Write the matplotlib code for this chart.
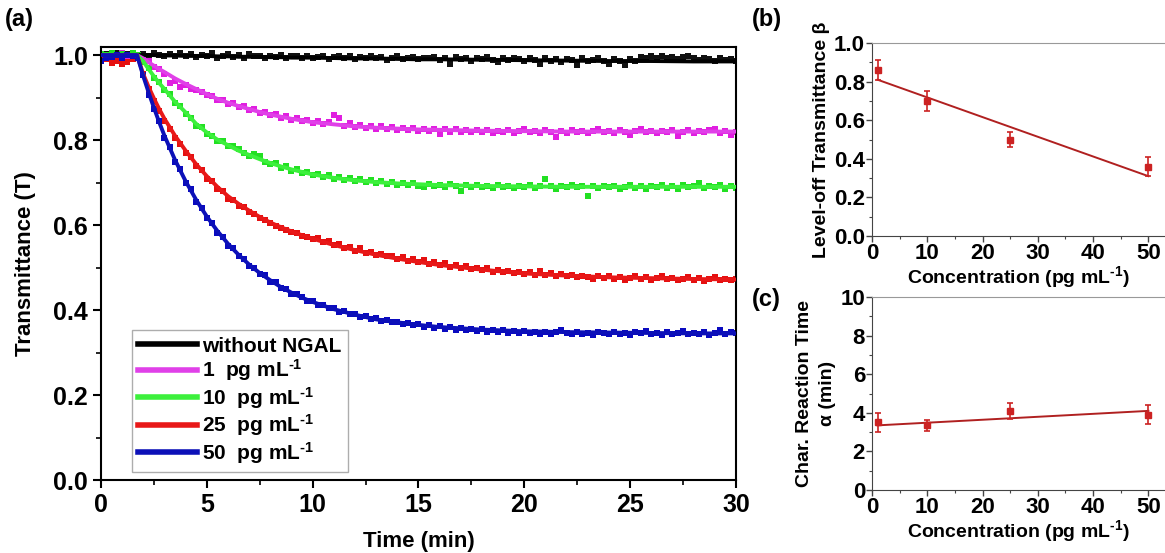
import matplotlib
matplotlib.use("Agg")
import matplotlib.pyplot as plt
from matplotlib.ticker import MultipleLocator

plt.rcParams['font.family'] = ['Liberation Sans', 'DejaVu Sans']
plt.rcParams['font.weight'] = 'bold'
plt.rcParams['mathtext.fontset'] = 'custom'
plt.rcParams['mathtext.rm'] = 'Liberation Sans:bold'
plt.rcParams['mathtext.bf'] = 'Liberation Sans:bold'
plt.rcParams['mathtext.default'] = 'bf'

# ---- panel (a): measured transmittance, sampled every 0.25 min ----
time = [0, 0.25, 0.5, 0.75, 1, 1.25, 1.5, 1.75, 2, 2.25, 2.5, 2.75, 3, 3.25, 3.5, 3.75,
        4, 4.25, 4.5, 4.75, 5, 5.25, 5.5, 5.75, 6, 6.25, 6.5, 6.75, 7, 7.25, 7.5, 7.75,
        8, 8.25, 8.5, 8.75, 9, 9.25, 9.5, 9.75, 10, 10.25, 10.5, 10.75, 11, 11.25, 11.5, 11.75,
        12, 12.25, 12.5, 12.75, 13, 13.25, 13.5, 13.75, 14, 14.25, 14.5, 14.75, 15, 15.25, 15.5, 15.75,
        16, 16.25, 16.5, 16.75, 17, 17.25, 17.5, 17.75, 18, 18.25, 18.5, 18.75, 19, 19.25, 19.5, 19.75,
        20, 20.25, 20.5, 20.75, 21, 21.25, 21.5, 21.75, 22, 22.25, 22.5, 22.75, 23, 23.25, 23.5, 23.75,
        24, 24.25, 24.5, 24.75, 25, 25.25, 25.5, 25.75, 26, 26.25, 26.5, 26.75, 27, 27.25, 27.5, 27.75,
        28, 28.25, 28.5, 28.75, 29, 29.25, 29.5, 29.75, 30]

t_black = [0.998, 1.003, 1.001, 1.004, 0.999, 1.002, 1.005, 1.001,
           1.003, 0.998, 1.004, 1.000, 0.997, 1.003, 0.999, 1.004,
           0.998, 1.002, 0.995, 1.001, 0.997, 1.004, 0.993, 0.999,
           1.002, 0.996, 1.000, 0.994, 1.003, 0.997, 0.999, 0.992,
           0.998, 0.995, 1.001, 0.993, 0.997, 0.999, 0.994, 0.998,
           0.992, 0.996, 0.999, 0.990, 0.995, 0.997, 0.993, 0.998,
           0.991, 0.996, 0.994, 0.998, 0.992, 0.995, 0.989, 0.994,
           0.997, 0.991, 0.993, 0.995, 0.990, 0.994, 0.992, 0.996,
           0.988, 0.993, 0.980, 0.995, 0.990, 0.992, 0.987, 0.994,
           0.991, 0.995, 0.989, 0.983, 0.992, 0.988, 0.994, 0.990,
           0.986, 0.992, 0.989, 0.978, 0.993, 0.987, 0.990, 0.984,
           0.991, 0.988, 0.976, 0.992, 0.986, 0.989, 0.993, 0.985,
           0.979, 0.990, 0.987, 0.977, 0.991, 0.986, 0.996, 0.993,
           0.998, 0.994, 0.997, 0.992, 0.996, 0.990, 0.995, 0.997,
           0.992, 0.988, 0.994, 0.990, 0.986, 0.993, 0.989, 0.991, 0.987]

t_1pg = [1.002, 0.999, 1.003, 1.000, 1.004, 0.999, 1.002, 1.000,
         0.990, 0.985, 0.972, 0.968, 0.955, 0.935, 0.940, 0.925,
         0.930, 0.921, 0.918, 0.912, 0.905, 0.903, 0.895, 0.894,
         0.886, 0.887, 0.878, 0.880, 0.871, 0.873, 0.864, 0.867,
         0.858, 0.861, 0.853, 0.856, 0.848, 0.852, 0.844, 0.848,
         0.840, 0.845, 0.838, 0.842, 0.858, 0.852, 0.833, 0.839,
         0.831, 0.836, 0.829, 0.834, 0.827, 0.832, 0.826, 0.831,
         0.824, 0.829, 0.823, 0.828, 0.822, 0.827, 0.821, 0.826,
         0.815, 0.825, 0.820, 0.826, 0.819, 0.824, 0.818, 0.823,
         0.819, 0.824, 0.817, 0.822, 0.818, 0.823, 0.816, 0.821,
         0.825, 0.818, 0.822, 0.817, 0.823, 0.819, 0.808, 0.821,
         0.817, 0.823, 0.818, 0.822, 0.816, 0.821, 0.826, 0.818,
         0.822, 0.817, 0.823, 0.819, 0.812, 0.821, 0.825, 0.818,
         0.822, 0.816, 0.821, 0.818, 0.823, 0.810, 0.820, 0.824,
         0.817, 0.822, 0.818, 0.823, 0.826, 0.817, 0.822, 0.813, 0.818]

t_10pg = [1.003, 1.000, 1.004, 0.999, 1.003, 1.001, 1.004, 1.000,
          0.983, 0.970, 0.947, 0.937, 0.917, 0.908, 0.887, 0.880,
          0.862, 0.853, 0.834, 0.830, 0.814, 0.810, 0.798, 0.797,
          0.785, 0.786, 0.780, 0.770, 0.762, 0.768, 0.762, 0.748,
          0.744, 0.745, 0.735, 0.738, 0.728, 0.732, 0.722, 0.726,
          0.717, 0.721, 0.714, 0.718, 0.709, 0.714, 0.706, 0.711,
          0.703, 0.708, 0.701, 0.706, 0.699, 0.704, 0.697, 0.702,
          0.695, 0.700, 0.694, 0.699, 0.693, 0.689, 0.697, 0.692,
          0.695, 0.690, 0.696, 0.691, 0.680, 0.694, 0.689, 0.695,
          0.690, 0.693, 0.688, 0.694, 0.689, 0.692, 0.687, 0.693,
          0.690, 0.695, 0.688, 0.692, 0.708, 0.691, 0.686, 0.693,
          0.689, 0.694, 0.690, 0.692, 0.668, 0.691, 0.687, 0.693,
          0.689, 0.692, 0.686, 0.690, 0.694, 0.688, 0.691, 0.686,
          0.693, 0.689, 0.695, 0.688, 0.691, 0.686, 0.694, 0.689,
          0.692, 0.698, 0.688, 0.693, 0.689, 0.695, 0.686, 0.691, 0.688]

t_25pg = [0.998, 0.990, 0.982, 0.986, 0.978, 0.984, 0.990, 0.995,
          0.955, 0.921, 0.893, 0.869, 0.846, 0.826, 0.804, 0.791,
          0.770, 0.760, 0.738, 0.730, 0.709, 0.704, 0.684, 0.680,
          0.662, 0.660, 0.646, 0.643, 0.630, 0.627, 0.616, 0.611,
          0.604, 0.598, 0.593, 0.588, 0.583, 0.581, 0.574, 0.573,
          0.567, 0.570, 0.560, 0.562, 0.552, 0.556, 0.547, 0.549,
          0.540, 0.546, 0.535, 0.537, 0.529, 0.533, 0.526, 0.527,
          0.520, 0.525, 0.516, 0.519, 0.512, 0.517, 0.508, 0.512,
          0.505, 0.510, 0.502, 0.506, 0.499, 0.503, 0.496, 0.500,
          0.494, 0.498, 0.490, 0.494, 0.489, 0.492, 0.486, 0.490,
          0.485, 0.489, 0.483, 0.491, 0.482, 0.486, 0.480, 0.484,
          0.479, 0.483, 0.477, 0.481, 0.478, 0.474, 0.481, 0.476,
          0.479, 0.473, 0.477, 0.471, 0.476, 0.480, 0.473, 0.477,
          0.471, 0.475, 0.479, 0.472, 0.476, 0.470, 0.474, 0.478,
          0.471, 0.475, 0.469, 0.474, 0.477, 0.470, 0.474, 0.471, 0.473]

t_50pg = [0.985, 0.992, 0.996, 1.000, 0.994, 1.001, 0.998, 0.993,
          0.952, 0.905, 0.872, 0.845, 0.806, 0.784, 0.749, 0.731,
          0.700, 0.684, 0.655, 0.641, 0.616, 0.605, 0.582, 0.573,
          0.551, 0.546, 0.527, 0.521, 0.503, 0.500, 0.484, 0.482,
          0.467, 0.465, 0.452, 0.450, 0.438, 0.437, 0.431, 0.421,
          0.421, 0.412, 0.412, 0.404, 0.404, 0.396, 0.398, 0.390,
          0.391, 0.384, 0.386, 0.379, 0.381, 0.374, 0.377, 0.371,
          0.373, 0.367, 0.370, 0.364, 0.367, 0.361, 0.364, 0.358,
          0.362, 0.356, 0.359, 0.353, 0.358, 0.352, 0.356, 0.351,
          0.355, 0.349, 0.353, 0.348, 0.352, 0.347, 0.351, 0.346,
          0.350, 0.345, 0.349, 0.344, 0.349, 0.343, 0.348, 0.352,
          0.346, 0.343, 0.349, 0.344, 0.347, 0.342, 0.348, 0.345,
          0.343, 0.349, 0.344, 0.347, 0.342, 0.348, 0.345, 0.351,
          0.343, 0.347, 0.342, 0.349, 0.344, 0.346, 0.350, 0.343,
          0.347, 0.344, 0.349, 0.342, 0.346, 0.354, 0.344, 0.348, 0.345]

# fitted curves
fit_time = [0, 1.7, 2, 2.25, 2.5, 2.75, 3, 3.5, 4, 4.5, 5, 5.5, 6, 6.5, 7, 7.5, 8, 8.5,
            9, 9.5, 10, 11, 12, 13, 14, 15, 16, 18, 20, 22, 24, 26, 28, 30]
fit_black = [1.0, 1.0, 1.0, 1.0, 1.0, 0.999, 0.999, 0.999, 0.998, 0.998, 0.998, 0.997,
             0.997, 0.996, 0.996, 0.996, 0.995, 0.995, 0.994, 0.994, 0.994, 0.993, 0.992,
             0.992, 0.991, 0.990, 0.990, 0.989, 0.988, 0.987, 0.986, 0.986, 0.985, 0.985]
fit_1pg = [1.0, 1.0, 0.992, 0.983, 0.975, 0.967, 0.960, 0.945, 0.932, 0.920, 0.908, 0.897,
           0.888, 0.880, 0.873, 0.866, 0.860, 0.855, 0.850, 0.846, 0.842, 0.837, 0.832,
           0.829, 0.827, 0.825, 0.824, 0.822, 0.821, 0.820, 0.820, 0.820, 0.820, 0.820]
fit_10pg = [1.0, 1.0, 0.985, 0.967, 0.950, 0.934, 0.920, 0.890, 0.865, 0.838, 0.818, 0.801,
            0.788, 0.775, 0.765, 0.755, 0.746, 0.738, 0.731, 0.725, 0.719, 0.711, 0.705,
            0.701, 0.698, 0.696, 0.694, 0.692, 0.691, 0.690, 0.690, 0.690, 0.690, 0.690]
fit_25pg = [1.0, 1.0, 0.955, 0.925, 0.898, 0.873, 0.850, 0.810, 0.775, 0.743, 0.715, 0.690,
            0.668, 0.650, 0.634, 0.619, 0.606, 0.595, 0.585, 0.576, 0.568, 0.553, 0.541,
            0.530, 0.521, 0.513, 0.506, 0.495, 0.486, 0.481, 0.477, 0.475, 0.473, 0.472]
fit_50pg = [1.0, 1.0, 0.950, 0.912, 0.876, 0.842, 0.810, 0.753, 0.703, 0.659, 0.620, 0.586,
            0.556, 0.530, 0.507, 0.487, 0.470, 0.454, 0.441, 0.429, 0.419, 0.402, 0.389,
            0.378, 0.371, 0.365, 0.360, 0.354, 0.350, 0.348, 0.347, 0.346, 0.345, 0.345]

unit = r'pg mL$^{\text{-1}}$'
labels = ['without NGAL', '1  ' + unit, '10  ' + unit, '25  ' + unit, '50  ' + unit]
point_colors = ['#111111', '#e01ee0', '#22e022', '#e51010', '#0a0ac0']
line_colors = ['#000000', '#e040e8', '#3cf03c', '#e81818', '#0c10b8']

# ---- panels (b), (c): fit parameters vs concentration ----
conc = [1, 10, 25, 50]
beta = [0.86, 0.70, 0.50, 0.36]
beta_err = [0.05, 0.05, 0.04, 0.05]
beta_fit = [0.81, 0.31]
alpha = [3.5, 3.35, 4.1, 3.9]
alpha_err = [0.5, 0.3, 0.4, 0.5]
alpha_fit = [3.35, 4.1]
conc_fit = [1, 50]

fig = plt.figure(figsize=(11.65, 5.53), dpi=100)

ax = fig.add_axes([0.0867, 0.132, 0.545, 0.783])
series = [t_black, t_1pg, t_10pg, t_25pg, t_50pg]
fits = [fit_black, fit_1pg, fit_10pg, fit_25pg, fit_50pg]
for ys, c in zip(series, point_colors):
    ax.plot(time, ys, 's', color=c, markersize=4.0, markeredgewidth=0, zorder=2)
handles = []
for ys, c, lab in zip(fits, line_colors, labels):
    h, = ax.plot(fit_time, ys, '-', color=c, lw=2.8, label=lab, zorder=3)
    handles.append(h)

ax.set_xlim(0, 30)
ax.set_ylim(0, 1.019)
ax.xaxis.set_major_locator(MultipleLocator(5))
ax.xaxis.set_minor_locator(MultipleLocator(2.5))
ax.yaxis.set_major_locator(MultipleLocator(0.2))
ax.yaxis.set_minor_locator(MultipleLocator(0.1))
ax.tick_params(which='major', direction='out', length=6, width=1.5, labelsize=18)
ax.tick_params(which='minor', direction='out', length=3.5, width=1.2)
for s in ax.spines.values():
    s.set_linewidth(1.5)
ax.set_xlabel('Time (min)', fontsize=16, fontweight='bold', labelpad=10)
ax.set_ylabel('Transmittance (T)', fontsize=16, fontweight='bold', labelpad=12)

leg = ax.legend(handles=handles, loc='lower left', bbox_to_anchor=(0.049, 0.018),
                borderaxespad=0, fontsize=15, handlelength=2.8, handletextpad=0.25,
                labelspacing=0.08, frameon=True, fancybox=False, borderpad=0.3)
leg.get_frame().set_edgecolor('#999999')
leg.get_frame().set_linewidth(1.0)
for line in leg.get_lines():
    line.set_linewidth(4)
for txt in leg.get_texts():
    txt.set_fontweight('bold')


def small_panel(rect, y, yerr, yfit, ylim, ymajor, yminor, ylabel):
    a = fig.add_axes(rect)
    a.errorbar(conc, y, yerr=yerr, fmt='s', color='#cc2222', ecolor='#cc2222',
               markersize=5, elinewidth=1.2, capsize=2.5, capthick=1.2, zorder=3)
    a.plot(conc_fit, yfit, '-', color='#b02020', lw=1.4, zorder=2)
    a.set_xlim(0, 53)
    a.set_ylim(*ylim)
    a.xaxis.set_major_locator(MultipleLocator(10))
    a.xaxis.set_minor_locator(MultipleLocator(5))
    a.yaxis.set_major_locator(MultipleLocator(ymajor))
    a.yaxis.set_minor_locator(MultipleLocator(yminor))
    a.tick_params(which='major', direction='out', length=4, width=1.0, labelsize=16,
                  pad=1, color='#444444')
    a.tick_params(which='minor', direction='out', length=2.5, width=0.8, color='#444444')
    a.spines['top'].set_color('#999999')
    a.spines['right'].set_visible(False)
    a.spines['left'].set_color('#444444')
    a.spines['bottom'].set_color('#444444')
    a.set_xlabel('Concentration (' + unit + ')', fontsize=14, fontweight='bold', labelpad=0)
    a.set_ylabel(ylabel, fontsize=14, fontweight='bold', labelpad=3, linespacing=1.5)
    return a


small_panel([0.7485, 0.5732, 0.2515, 0.349], beta, beta_err, beta_fit,
            (0, 1.0), 0.2, 0.1, 'Level-off Transmittance β')
small_panel([0.7485, 0.1139, 0.2515, 0.349], alpha, alpha_err, alpha_fit,
            (0, 10), 2, 1, 'Char. Reaction Time\nα (min)')

fig.text(0.004, 0.965, '(a)', fontsize=17, fontweight='bold', va='center')
fig.text(0.645, 0.965, '(b)', fontsize=17, fontweight='bold', va='center')
fig.text(0.645, 0.458, '(c)', fontsize=17, fontweight='bold', va='center')

fig.savefig('out.png', dpi=100)
